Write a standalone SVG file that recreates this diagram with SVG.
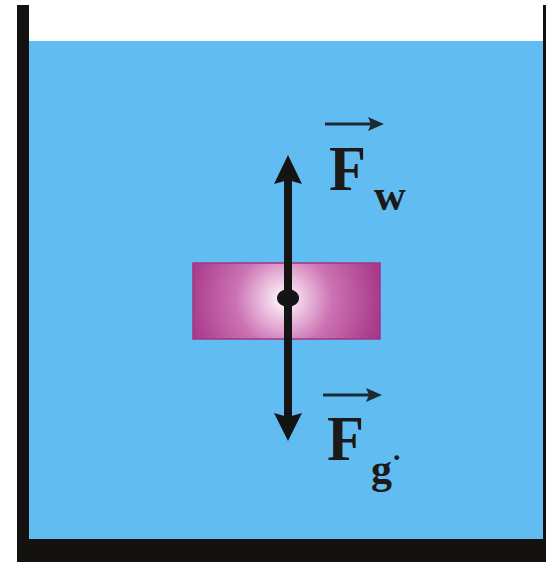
<svg xmlns="http://www.w3.org/2000/svg" width="546" height="562" viewBox="0 0 546 562">
<defs>
<radialGradient id="blockGrad" gradientUnits="userSpaceOnUse" cx="284" cy="299" r="115">
<stop offset="0" stop-color="#ffffff"/>
<stop offset="0.1" stop-color="#f6dbee"/>
<stop offset="0.42" stop-color="#cc72b3"/>
<stop offset="0.78" stop-color="#ad4290"/>
<stop offset="1" stop-color="#9a2879"/>
</radialGradient>
<style>
.wall{fill:#141210}
.lbl{font-family:"Liberation Serif","Times New Roman",serif;font-weight:bold;fill:#1c1a18}
.vec{stroke:#1c2a33;stroke-width:3;fill:none}
.vhead{fill:#1c2a33}
</style>
</defs>
<rect width="546" height="562" fill="#ffffff"/>
<g id="container">
<rect x="29" y="41" width="516" height="499" fill="#61bdf1"/>
<rect class="wall" x="17" y="5" width="12" height="557"/>
<rect class="wall" x="17" y="539" width="529" height="23"/>
<rect class="wall" x="543" y="5" width="3" height="534"/>
</g>
<g id="block">
<rect x="193" y="263" width="187" height="76" fill="url(#blockGrad)" stroke="#a23584" stroke-width="1.5"/>
</g>
<g id="connectors">
<line x1="288" y1="178" x2="288" y2="420" stroke="#141414" stroke-width="8"/>
<polygon points="288,155 302,184 288,180 274,184" fill="#141414"/>
<polygon points="288,441 302,413 288,417 274,413" fill="#141414"/>
<ellipse cx="288" cy="298" rx="11" ry="9" fill="#141414"/>
</g>
<g id="label-Fw">
<line class="vec" x1="325" y1="124" x2="372" y2="124"/>
<polygon class="vhead" points="384,124 368,117 371,124 368,131"/>
<text class="lbl" x="329" y="190" font-size="64" textLength="37" lengthAdjust="spacingAndGlyphs">F</text>
<text class="lbl" x="374" y="210" font-size="44">w</text>
</g>
<g id="label-Fg">
<line class="vec" x1="323" y1="395" x2="370" y2="395"/>
<polygon class="vhead" points="382,395 366,388 369,395 366,402"/>
<text class="lbl" x="327" y="460" font-size="64" textLength="37" lengthAdjust="spacingAndGlyphs">F</text>
<text class="lbl" x="371" y="483" font-size="42">g</text>
<text class="lbl" x="393" y="460" font-size="30">.</text>
</g>
</svg>
